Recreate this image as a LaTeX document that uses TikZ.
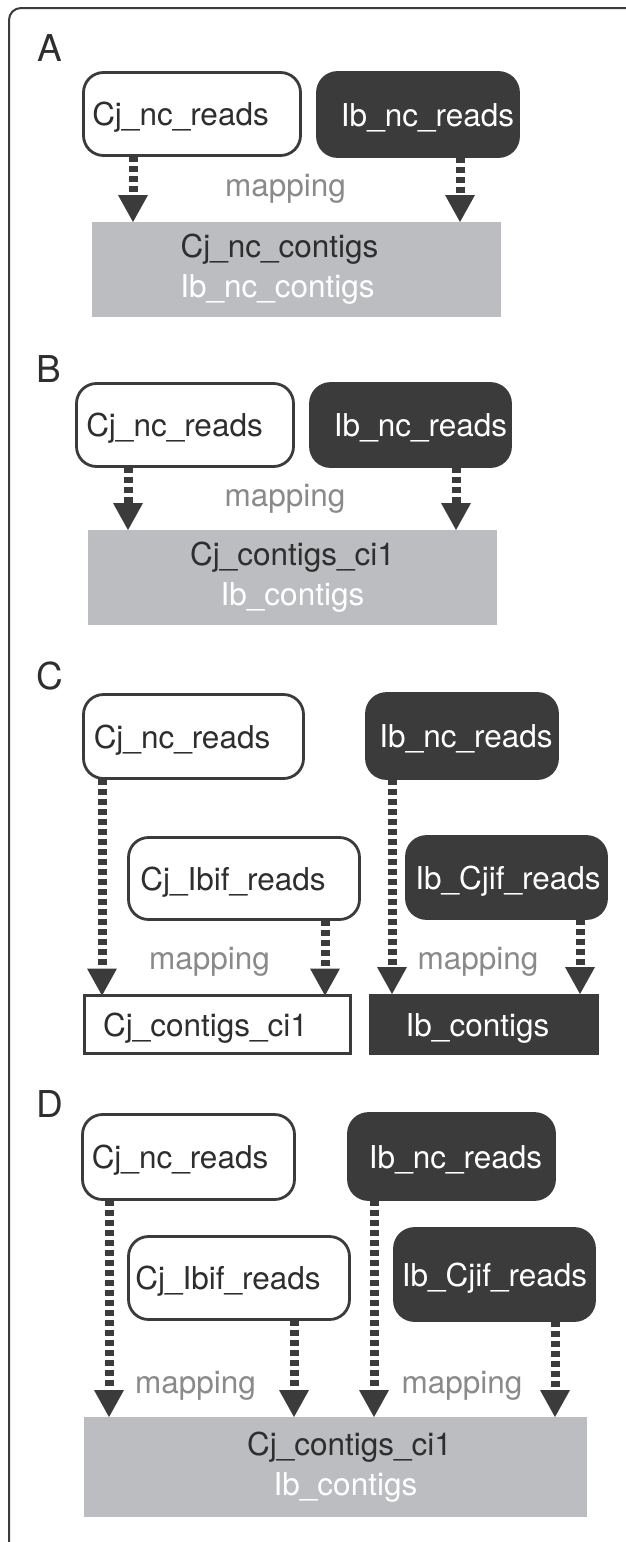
\documentclass[tikz,border=0pt]{standalone}
\usepackage{fontspec}
\setmainfont{TeX Gyre Heros}
\usetikzlibrary{arrows.meta}
\definecolor{dk}{HTML}{3B3B3B}
\definecolor{tx}{HTML}{2E2E2E}
\definecolor{gfill}{HTML}{BCBDC0}
\definecolor{mapc}{HTML}{8A8A8C}
\begin{document}
\begin{tikzpicture}[x=1pt,y=-1pt,
  every node/.style={inner sep=0pt,outer sep=0pt,font=\fontsize{31.5}{40}\selectfont},
  sz/.style 2 args={minimum width=#1pt,minimum height=#2pt},
  wbox/.style={draw=dk,line width=2.8pt,fill=white,rounded corners=20pt,text=tx,text height=23pt,text depth=0pt},
  bbox/.style={draw=dk,line width=2.8pt,fill=dk,rounded corners=20pt,text=white,text height=23pt,text depth=0pt},
  wrect/.style={draw=dk,line width=2.8pt,fill=white,text=tx,text height=23pt,text depth=0pt},
  brect/.style={fill=dk,text=white,text height=23pt,text depth=0pt},
  grect/.style={fill=gfill,align=center,text=tx},
  maplabel/.style={text=mapc,anchor=base},
  panel/.style={text=tx,anchor=base,font=\fontsize{37}{40}\selectfont},
  maparrow/.style={draw=dk,line width=9pt,dash pattern=on 6pt off 4pt,-{Triangle[width=30pt,length=27pt,line width=0pt]}},
  outerframe/.style={draw=dk,line width=2pt,rounded corners=12pt}
]
\useasboundingbox (0,0) rectangle (625,1542);
\draw[outerframe] (9,1560) -- (9,8) -- (640,8);

% ---------- A ----------
\node[panel] (labA) at (50,61) {A};
\node[wbox,sz={217}{83}] (cjA) at (192,114) {Cj\_nc\_reads\kern23pt};
\node[bbox,sz={201}{84}] (ibA) at (418,114.5) {\kern19pt Ib\_nc\_reads};
\node[grect,sz={409}{95}] (gA) at (296.5,269.5) {Cj\_nc\_contigs\kern34pt\\\textcolor{white}{Ib\_nc\_contigs}\kern38pt};
\node[maplabel] (mapA) at (285.5,196.5) {mapping};
\draw[maparrow] ([xshift=-59pt]cjA.south) -- ([xshift=-59pt]cjA.south |- gA.north);
\draw[maparrow] ([xshift=42pt]ibA.south) -- ([xshift=42pt]ibA.south |- gA.north);

% ---------- B ----------
\node[panel] (labB) at (49,382) {B};
\node[wbox,sz={217}{83}] (cjB) at (185,425) {Cj\_nc\_reads\kern21pt};
\node[bbox,sz={200}{83}] (ibB) at (410.5,425) {\kern20pt Ib\_nc\_reads};
\node[grect,sz={409}{95}] (gB) at (292.5,577.5) {Cj\_contigs\_ci1\\\textcolor{white}{Ib\_contigs}};
\node[maplabel] (mapB) at (285,506) {mapping};
\draw[maparrow] ([xshift=-57pt]cjB.south) -- ([xshift=-57pt]cjB.south |- gB.north);
\draw[maparrow] ([xshift=45.5pt]ibB.south) -- ([xshift=45.5pt]ibB.south |- gB.north);

% ---------- C ----------
\node[panel] (labC) at (49.5,689) {C};
\node[wbox,sz={220}{84}] (cjC) at (193.5,736.5) {Cj\_nc\_reads\kern23pt};
\node[bbox,sz={191}{85}] (ibC) at (462,736) {\kern8pt Ib\_nc\_reads};
\node[wbox,sz={231}{82}] (cjiC) at (244,878.5) {Cj\_Ibif\_reads\kern22pt};
\node[bbox,sz={200}{82}] (ibjC) at (506.5,877.5) {\kern3pt Ib\_Cjif\_reads};
\node[wrect,sz={266}{58}] (oC1) at (217.5,1024.5) {Cj\_contigs\_ci1\kern24pt};
\node[brect,sz={230}{61}] (oC2) at (484,1024.5) {Ib\_contigs\kern13pt};
\node[maplabel] (mapC1) at (209.5,969) {mapping};
\node[maplabel] (mapC2) at (478,969) {mapping};
\draw[maparrow] ([xshift=-91.5pt]cjC.south) -- ([xshift=-91.5pt]cjC.south |- oC1.north);
\draw[maparrow] ([xshift=81pt]cjiC.south) -- ([xshift=81pt]cjiC.south |- oC1.north);
\draw[maparrow] ([xshift=-70pt]ibC.south) -- ([xshift=-70pt]ibC.south |- oC2.north);
\draw[maparrow] ([xshift=73.5pt]ibjC.south) -- ([xshift=73.5pt]ibjC.south |- oC2.north);

% ---------- D ----------
\node[panel] (labD) at (50,1117) {D};
\node[wbox,sz={212}{85}] (cjD) at (188.5,1157) {Cj\_nc\_reads\kern17pt};
\node[bbox,sz={206}{86}] (ibD) at (451.5,1156.5) {\kern8pt Ib\_nc\_reads};
\node[wbox,sz={221}{83}] (cjiD) at (239,1278) {Cj\_Ibif\_reads\kern22pt};
\node[bbox,sz={200}{92}] (ibjD) at (494.5,1274.5) {Ib\_Cjif\_reads};
\node[grect,sz={503}{100}] (gD) at (335.5,1467) {\noindent\kern28pt Cj\_contigs\_ci1\\\kern20pt\textcolor{white}{Ib\_contigs}};
\node[maplabel] (mapD1) at (195.5,1393) {mapping};
\node[maplabel] (mapD2) at (462,1393) {mapping};
\draw[maparrow] ([xshift=-79.5pt]cjD.south) -- ([xshift=-79.5pt]cjD.south |- gD.north);
\draw[maparrow] ([xshift=55pt]cjiD.south) -- ([xshift=55pt]cjiD.south |- gD.north);
\draw[maparrow] ([xshift=-77.5pt]ibD.south) -- ([xshift=-77.5pt]ibD.south |- gD.north);
\draw[maparrow] ([xshift=60.5pt]ibjD.south) -- ([xshift=60.5pt]ibjD.south |- gD.north);
\end{tikzpicture}
\end{document}
